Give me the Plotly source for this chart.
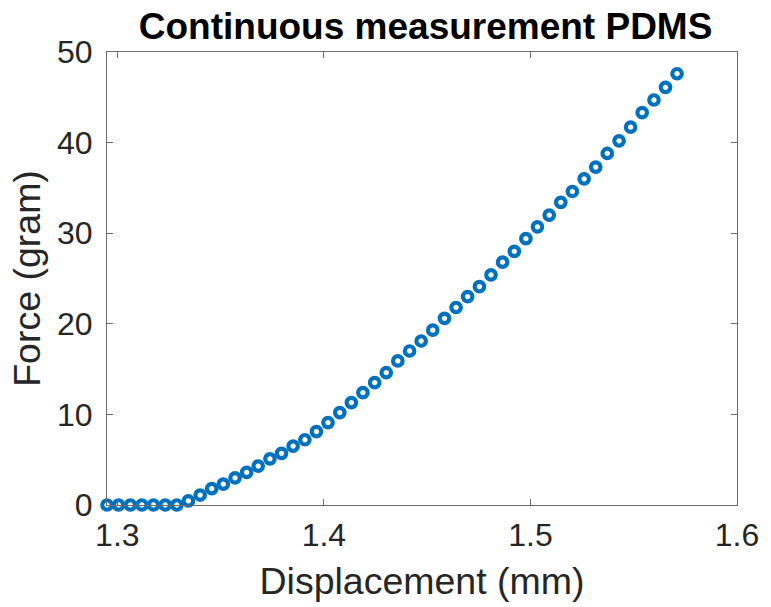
import plotly.graph_objects as go

displacement_mm = [
    1.2950, 1.3006, 1.3063, 1.3119, 1.3175, 1.3232, 1.3288, 1.3344, 1.3401, 1.3457,
    1.3513, 1.3570, 1.3626, 1.3682, 1.3739, 1.3795, 1.3851, 1.3908, 1.3964, 1.4020,
    1.4077, 1.4133, 1.4189, 1.4246, 1.4302, 1.4358, 1.4415, 1.4471, 1.4527, 1.4584,
    1.4640, 1.4696, 1.4753, 1.4809, 1.4865, 1.4922, 1.4978, 1.5034, 1.5091, 1.5147,
    1.5203, 1.5260, 1.5316, 1.5372, 1.5429, 1.5485, 1.5541, 1.5598, 1.5654, 1.5710,
]
force_gram = [
    0.0, 0.0, 0.0, 0.0, 0.0, 0.0, 0.0, 0.45, 1.1, 1.8,
    2.3, 3.0, 3.6, 4.3, 5.1, 5.7, 6.5, 7.2, 8.1, 9.1,
    10.2, 11.3, 12.4, 13.5, 14.6, 15.9, 17.0, 18.1, 19.3, 20.6,
    21.8, 23.0, 24.1, 25.4, 26.8, 28.0, 29.4, 30.7, 32.0, 33.4,
    34.6, 36.0, 37.3, 38.8, 40.2, 41.7, 43.3, 44.7, 46.1, 47.6,
]
x_ticks = [1.3, 1.4, 1.5, 1.6]
x_tick_labels = ["1.3", "1.4", "1.5", "1.6"]
y_ticks = [0, 10, 20, 30, 40, 50]
y_tick_labels = ["0", "10", "20", "30", "40", "50"]

FONT = "Liberation Sans, Arial, sans-serif"
TXT = "#262626"

fig = go.Figure(go.Scatter(
    x=displacement_mm, y=force_gram, mode="markers",
    marker=dict(symbol="circle-open", size=9.5, color="#0072BD",
                line=dict(width=4.2, color="#0072BD")),
    showlegend=False,
))

axis_common = dict(
    showline=True, linecolor="#6b6b6b", linewidth=1, mirror="ticks",
    ticks="inside", ticklen=6, tickcolor="#6b6b6b", tickwidth=1,
    showgrid=False, zeroline=False,
    tickfont=dict(family=FONT, size=32, color=TXT),
)

fig.update_layout(
    width=771, height=607,
    margin=dict(l=107, r=27, t=52, b=101),
    paper_bgcolor="white", plot_bgcolor="white",
    title=dict(text="<b>Continuous measurement PDMS</b>", x=0.552, xanchor="center",
               y=0.979, yanchor="top",
               font=dict(family=FONT, size=37, color="black")),
    xaxis=dict(range=[1.295, 1.6], tickvals=x_ticks, ticktext=x_tick_labels,
               ticklabelstandoff=2,
               title=dict(text="Displacement (mm)", standoff=15,
                          font=dict(family=FONT, size=37.5, color=TXT)),
               **axis_common),
    yaxis=dict(range=[0, 50], tickvals=y_ticks, ticktext=y_tick_labels,
               ticklabelstandoff=7,
               title=dict(text="Force (gram)", standoff=4,
                          font=dict(family=FONT, size=37.5, color=TXT)),
               **axis_common),
)
fig.update_traces(cliponaxis=False)

fig.write_html("out.html")
